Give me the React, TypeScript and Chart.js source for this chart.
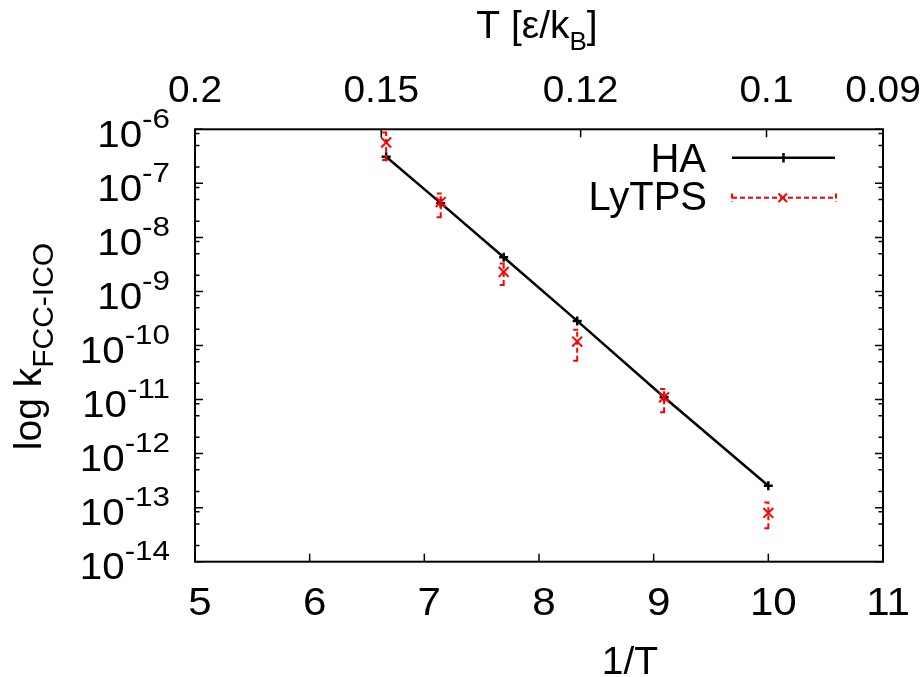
import React, { useEffect, useRef } from "react";
import { Chart, registerables } from "chart.js";

Chart.register(...registerables);

// ---- data ----
const invT = [6.667, 7.143, 7.692, 8.333, 9.091, 10.0];
const haRate = [3.1e-7, 4.3e-8, 4.3e-9, 2.85e-10, 1.1e-11, 2.55e-13];
const lytpsRate = [5.7e-7, 4.5e-8, 2.3e-9, 1.18e-10, 1.1e-11, 8.0e-14];
const lytpsLow = [2.7e-7, 2.35e-8, 1.31e-9, 5.2e-11, 5.8e-12, 4.15e-14];
const lytpsHigh = [8.7e-7, 6.5e-8, 3.3e-9, 1.95e-10, 1.57e-11, 1.24e-13];

const xTicks = [5, 6, 7, 8, 9, 10, 11];
const topTickPos = [5, 6.624, 8.363, 9.984, 11];
const topTickLabels = ["0.2", "0.15", "0.12", "0.1", "0.09"];
const yExponents = [-14, -13, -12, -11, -10, -9, -8, -7, -6];
const yMinorMult = [2, 5, 8.4];

const seriesNames = ["HA", "LyTPS"];
const xTitle = "1/T";
const x2TitleMain = "T [ε/k";
const x2TitleSub = "B";
const yTitleMain = "log k";
const yTitleSub = "FCC-ICO";

const FONT = '"Liberation Sans", Arial, Helvetica, sans-serif';

type Seg = { t: string; size: number; dy: number; sx?: number };

function segWidth(ctx: CanvasRenderingContext2D, s: Seg) {
  ctx.font = `${s.size}px ${FONT}`;
  return ctx.measureText(s.t).width * (s.sx ?? 1);
}

function drawSegs(
  ctx: CanvasRenderingContext2D,
  segs: Seg[],
  x: number,
  y: number,
  align: "left" | "center" | "right"
) {
  ctx.save();
  const widths = segs.map((s) => segWidth(ctx, s));
  const total = widths.reduce((a, b) => a + b, 0);
  let cx = align === "left" ? x : align === "center" ? x - total / 2 : x - total;
  ctx.textAlign = "left";
  ctx.textBaseline = "alphabetic";
  ctx.fillStyle = "#000";
  segs.forEach((s, i) => {
    ctx.save();
    ctx.font = `${s.size}px ${FONT}`;
    ctx.translate(cx, y + s.dy);
    ctx.scale(s.sx ?? 1, 1);
    ctx.fillText(s.t, 0, 0);
    ctx.restore();
    cx += widths[i];
  });
  ctx.restore();
}

const decorPlugin = {
  id: "decor",
  afterDatasetsDraw(chart: any) {
    const ctx: CanvasRenderingContext2D = chart.ctx;
    const xs = chart.scales.x;
    const ys = chart.scales.y;
    const ds = chart.data.datasets[0];
    ctx.save();
    ctx.strokeStyle = ds.borderColor;
    ctx.lineWidth = 2;
    ctx.setLineDash([5, 3]);
    invT.forEach((v, i) => {
      const px = xs.getPixelForValue(v);
      const yl = ys.getPixelForValue(lytpsLow[i]);
      const yh = ys.getPixelForValue(lytpsHigh[i]);
      ctx.beginPath();
      ctx.moveTo(px, yl);
      ctx.lineTo(px, yh);
      ctx.moveTo(px - 4, yl);
      ctx.lineTo(px + 4, yl);
      ctx.moveTo(px - 4, yh);
      ctx.lineTo(px + 4, yh);
      ctx.stroke();
    });
    ctx.restore();
  },
  afterDraw(chart: any) {
    const ctx: CanvasRenderingContext2D = chart.ctx;
    const { left, right, top, bottom } = chart.chartArea;
    const xs = chart.scales.x;
    const x2 = chart.scales.x2;
    const ys = chart.scales.y;

    ctx.save();
    ctx.strokeStyle = "#000";
    ctx.lineWidth = 1.5;
    // bottom ticks
    xs.ticks.forEach((t: any) => {
      const px = xs.getPixelForValue(t.value);
      ctx.beginPath();
      ctx.moveTo(px, bottom);
      ctx.lineTo(px, bottom - 8);
      ctx.stroke();
    });
    // top ticks
    x2.ticks.forEach((t: any) => {
      const px = x2.getPixelForValue(t.value);
      ctx.beginPath();
      ctx.moveTo(px, top);
      ctx.lineTo(px, top + 8);
      ctx.stroke();
    });
    // y ticks (mirrored)
    ys.ticks.forEach((t: any) => {
      const v = t.value;
      const py = ys.getPixelForValue(v);
      ctx.beginPath();
      ctx.moveTo(left, py);
      ctx.lineTo(left + 8, py);
      ctx.moveTo(right, py);
      ctx.lineTo(right - 8, py);
      ctx.stroke();
      yMinorMult.forEach((m) => {
        const mv = v * m;
        if (mv > ys.max * 1.0001) return;
        const my = ys.getPixelForValue(mv);
        ctx.beginPath();
        ctx.moveTo(left, my);
        ctx.lineTo(left + 4.5, my);
        ctx.moveTo(right, my);
        ctx.lineTo(right - 4.5, my);
        ctx.stroke();
      });
    });
    // border
    ctx.lineWidth = 2;
    ctx.strokeRect(left, top, right - left, bottom - top);
    ctx.restore();

    // bottom tick labels
    xs.ticks.forEach((t: any) => {
      const px = xs.getPixelForValue(t.value);
      drawSegs(ctx, [{ t: String(t.value), size: 39, dy: 0, sx: 1.08 }], px + 5, 615, "center");
    });
    // top tick labels
    x2.ticks.forEach((t: any, i: number) => {
      const px = x2.getPixelForValue(t.value);
      drawSegs(ctx, [{ t: topTickLabels[i], size: 37, dy: 0, sx: 1.05 }], px, 101.7, "center");
    });
    // y tick labels
    ys.ticks.forEach((t: any) => {
      const py = ys.getPixelForValue(t.value);
      const e = Math.round(Math.log10(t.value));
      drawSegs(
        ctx,
        [
          { t: "10", size: 36, dy: 0, sx: 1.12 },
          { t: String(e), size: 28, dy: -18.7, sx: 1.12 },
        ],
        170,
        py + 17.4,
        "right"
      );
    });

    // axis titles
    drawSegs(ctx, [{ t: xTitle, size: 39, dy: 0 }], 630, 674, "center");
    drawSegs(
      ctx,
      [
        { t: x2TitleMain, size: 39, dy: 0 },
        { t: x2TitleSub, size: 26, dy: 11.7 },
        { t: "]", size: 39, dy: 0 },
      ],
      (left + right) / 2 - 2,
      38.3,
      "center"
    );
    ctx.save();
    ctx.translate(41, (top + bottom) / 2 + 1);
    ctx.rotate(-Math.PI / 2);
    drawSegs(
      ctx,
      [
        { t: yTitleMain, size: 39, dy: 0 },
        { t: yTitleSub, size: 30, dy: 12 },
      ],
      0,
      0,
      "center"
    );
    ctx.restore();

    // legend
    const ha = chart.data.datasets[1];
    const ly = chart.data.datasets[0];
    drawSegs(ctx, [{ t: ha.label, size: 40, dy: 0 }], 706, 171.7, "right");
    drawSegs(ctx, [{ t: ly.label, size: 40, dy: 0 }], 707, 210, "right");
    ctx.save();
    ctx.strokeStyle = ha.borderColor;
    ctx.lineWidth = 2.5;
    ctx.beginPath();
    ctx.moveTo(732, 157.7);
    ctx.lineTo(835, 157.7);
    ctx.moveTo(783.5, 153);
    ctx.lineTo(783.5, 162.5);
    ctx.stroke();
    ctx.strokeStyle = ly.borderColor;
    ctx.lineWidth = 2;
    ctx.setLineDash([5, 3]);
    ctx.beginPath();
    ctx.moveTo(732, 197.7);
    ctx.lineTo(836, 197.7);
    ctx.moveTo(732, 193.5);
    ctx.lineTo(732, 202);
    ctx.moveTo(836, 193.5);
    ctx.lineTo(836, 202);
    ctx.stroke();
    ctx.setLineDash([]);
    ctx.beginPath();
    ctx.moveTo(778.5, 193.5);
    ctx.lineTo(787, 202);
    ctx.moveTo(787, 193.5);
    ctx.lineTo(778.5, 202);
    ctx.stroke();
    ctx.restore();
  },
};

export default function App() {
  const ref = useRef<HTMLCanvasElement | null>(null);

  useEffect(() => {
    if (!ref.current) return;
    const chart = new Chart(ref.current, {
      type: "line",
      data: {
        datasets: [
          {
            label: seriesNames[1],
            data: invT.map((x, i) => ({ x, y: lytpsRate[i] })),
            borderColor: "#ff0000",
            backgroundColor: "#ff0000",
            showLine: false,
            pointStyle: "crossRot",
            pointRadius: 7,
            pointBorderWidth: 2,
            order: 0,
          },
          {
            label: seriesNames[0],
            data: invT.map((x, i) => ({ x, y: haRate[i] })),
            borderColor: "#000000",
            backgroundColor: "#000000",
            borderWidth: 2.5,
            pointStyle: "cross",
            pointRadius: 4.5,
            pointBorderWidth: 2.5,
            tension: 0,
            order: 1,
          },
        ],
      },
      options: {
        responsive: false,
        animation: false,
        devicePixelRatio: 1,
        events: [],
        layout: { padding: { left: 0, right: 40, top: 0, bottom: 0 } },
        plugins: { legend: { display: false }, tooltip: { enabled: false } },
        scales: {
          x: {
            type: "linear",
            position: "bottom",
            min: 5,
            max: 11,
            afterBuildTicks: (s: any) => {
              s.ticks = xTicks.map((value) => ({ value }));
            },
            afterFit: (s: any) => {
              s.height = 115.3;
            },
            grid: { display: false },
            border: { display: false },
            ticks: { display: false },
          },
          x2: {
            type: "linear",
            position: "top",
            min: 5,
            max: 11,
            afterBuildTicks: (s: any) => {
              s.ticks = topTickPos.map((value) => ({ value }));
            },
            afterFit: (s: any) => {
              s.height = 129.3;
            },
            grid: { display: false },
            border: { display: false },
            ticks: { display: false },
          },
          y: {
            type: "logarithmic",
            position: "left",
            min: 1e-14,
            max: 1e-6,
            afterBuildTicks: (s: any) => {
              s.ticks = yExponents.map((e) => ({ value: Math.pow(10, e) }));
            },
            afterFit: (s: any) => {
              s.width = 195;
            },
            grid: { display: false },
            border: { display: false },
            ticks: { display: false },
          },
        },
      } as any,
      plugins: [decorPlugin],
    });
    return () => chart.destroy();
  }, []);

  return (
    <div style={{ position: "fixed", left: 0, top: 0, width: 923, height: 677, background: "#fff" }}>
      <canvas ref={ref} width={923} height={677} style={{ display: "block", width: 923, height: 677 }} />
    </div>
  );
}
